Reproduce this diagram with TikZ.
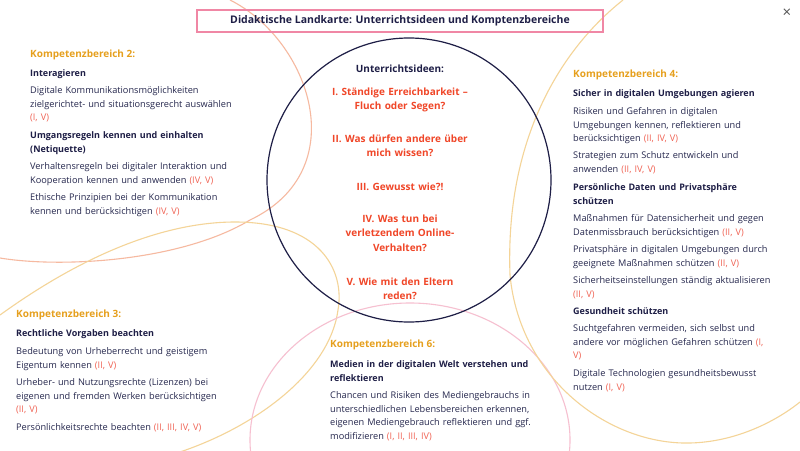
\documentclass[tikz,border=0pt]{standalone}
\usepackage{fontspec}
\setmainfont{Open Sans}
\usetikzlibrary{positioning}
\definecolor{landnavy}{RGB}{30,30,70}
\definecolor{landtext}{RGB}{38,40,78}
\definecolor{landred}{RGB}{240,70,40}
\definecolor{landref}{RGB}{240,100,85}
\definecolor{landorange}{RGB}{230,160,30}
\definecolor{landpink}{RGB}{240,135,165}
\definecolor{landsalmon}{RGB}{246,185,160}
\definecolor{landyellow}{RGB}{244,212,152}
\definecolor{landrose}{RGB}{246,192,208}
\definecolor{landgray}{RGB}{85,85,85}
\newcommand{\kref}[1]{{\color{landref}#1}}

\begin{document}
\begin{tikzpicture}[x=1pt,y=-1pt,
    kbtitel/.style={anchor=base west,inner sep=0pt,text=landorange,
        font=\fontsize{10}{12}\selectfont\bfseries},
    kbsub/.style={anchor=base west,inner sep=0pt,text=landnavy,align=left,
        text width=250pt,font=\fontsize{9}{14}\selectfont\bfseries},
    kbtext/.style={anchor=base west,inner sep=0pt,text=landtext,align=left,
        text width=250pt,font=\fontsize{9.2}{13.7}\selectfont},
    idee/.style={anchor=base,inner sep=0pt,text=landred,align=center,
        text width=200pt,font=\fontsize{10}{14.5}\selectfont\bfseries},
    bogen/.style={line width=1.1pt}]
    \useasboundingbox (0,0) rectangle (800,450);
    \fill[white] (0,0) rectangle (800,450);
    % Hintergrundbögen
    \begin{scope}
        \clip (0,0) rectangle (800,450);
        \draw[bogen,landsalmon] (230,0) .. controls (310,40) and (355,170) .. (250,220)
            .. controls (180,262) and (60,268) .. (0,258);
        \draw[bogen,landyellow] (0,315) .. controls (90,250) and (170,222) .. (235,222)
            .. controls (320,222) and (345,270) .. (338,310)
            .. controls (330,370) and (260,425) .. (180,452);
        \draw[bogen,landrose] (410,440) ellipse (160 and 137);
        \draw[bogen,landyellow] (623,0) .. controls (560,50) and (505,140) .. (510,275)
            .. controls (520,380) and (610,445) .. (690,443)
            .. controls (735,442) and (775,422) .. (800,402);
    \end{scope}
    % Titel
    \node[draw=landpink,line width=1.5pt,minimum width=406pt,minimum height=22pt,
        inner sep=0pt,text=landnavy,font=\fontsize{10.5}{12}\selectfont\bfseries]
        (titel) at (400,21) {Didaktische Landkarte: Unterrichtsideen und Komptenzbereiche};
    \node[text=landgray,font=\fontsize{15}{16}\selectfont] (schliessen) at (787,13) {×};
    % Kreis mit Unterrichtsideen
    \draw[landnavy,line width=1.2pt] (409,180) circle (142);
    \node[idee,text=landnavy] (ideen) at (400,72) {Unterrichtsideen:};
    \node[idee] (idee1) at (400,95) {I. Ständige Erreichbarkeit –\\Fluch oder Segen?};
    \node[idee] (idee2) at (400,142) {II. Was dürfen andere über\\mich wissen?};
    \node[idee] (idee3) at (400,190) {III. Gewusst wie?!};
    \node[idee] (idee4) at (400,222) {IV. Was tun bei\\verletzendem Online-\\Verhalten?};
    \node[idee] (idee5) at (400,285) {V. Wie mit den Eltern\\reden?};
    % Kompetenzbereich 2
    \node[kbtitel] (kb2) at (30,57) {Kompetenzbereich 2:};
    \node[kbsub] (kb2-inter) at (30,76.5) {Interagieren};
    \node[kbtext] (kb2-t1) at (30,93.5) {Digitale Kommunikationsmöglichkeiten\\
        zielgerichtet- und situationsgerecht auswählen\\\kref{(I, V)}};
    \node[kbsub] (kb2-regeln) at (30,138.5) {Umgangsregeln kennen und einhalten\\(Netiquette)};
    \node[kbtext] (kb2-t2) at (30,169.5) {Verhaltensregeln bei digitaler Interaktion und\\
        Kooperation kennen und anwenden \kref{(IV, V)}};
    \node[kbtext] (kb2-t3) at (30,200.5) {Ethische Prinzipien bei der Kommunikation\\
        kennen und berücksichtigen \kref{(IV, V)}};
    % Kompetenzbereich 3
    \node[kbtitel] (kb3) at (16,317) {Kompetenzbereich 3:};
    \node[kbsub] (kb3-recht) at (16,336.5) {Rechtliche Vorgaben beachten};
    \node[kbtext] (kb3-t1) at (16,354.5) {Bedeutung von Urheberrecht und geistigem\\
        Eigentum kennen \kref{(II, V)}};
    \node[kbtext] (kb3-t2) at (16,385.5) {Urheber- und Nutzungsrechte (Lizenzen) bei\\
        eigenen und fremden Werken berücksichtigen\\\kref{(II, V)}};
    \node[kbtext] (kb3-t3) at (16,430.5) {Persönlichkeitsrechte beachten \kref{(II, III, IV, V)}};
    % Kompetenzbereich 4
    \node[kbtitel] (kb4) at (573,77) {Kompetenzbereich 4:};
    \node[kbsub] (kb4-sicher) at (573,96.5) {Sicher in digitalen Umgebungen agieren};
    \node[kbtext] (kb4-t1) at (573,114.5) {Risiken und Gefahren in digitalen\\
        Umgebungen kennen, reflektieren und\\berücksichtigen \kref{(II, IV, V)}};
    \node[kbtext] (kb4-t2) at (573,158.5) {Strategien zum Schutz entwickeln und\\
        anwenden \kref{(II, IV, V)}};
    \node[kbsub] (kb4-daten) at (573,190.5) {Persönliche Daten und Privatsphäre\\schützen};
    \node[kbtext] (kb4-t3) at (573,221.5) {Maßnahmen für Datensicherheit und gegen\\
        Datenmissbrauch berücksichtigen \kref{(II, V)}};
    \node[kbtext] (kb4-t4) at (573,252.5) {Privatsphäre in digitalen Umgebungen durch\\
        geeignete Maßnahmen schützen \kref{(II, V)}};
    \node[kbtext] (kb4-t5) at (573,283.5) {Sicherheitseinstellungen ständig aktualisieren\\
        \kref{(II, V)}};
    \node[kbsub] (kb4-gesund) at (573,314.5) {Gesundheit schützen};
    \node[kbtext] (kb4-t6) at (573,331.5) {Suchtgefahren vermeiden, sich selbst und\\
        andere vor möglichen Gefahren schützen \kref{(I,}\\\kref{V)}};
    \node[kbtext] (kb4-t7) at (573,376.5) {Digitale Technologien gesundheitsbewusst\\
        nutzen \kref{(I, V)}};
    % Kompetenzbereich 6
    \node[kbtitel] (kb6) at (330,347) {Kompetenzbereich 6:};
    \node[kbsub] (kb6-medien) at (330,367.5) {Medien in der digitalen Welt verstehen und\\
        reflektieren};
    \node[kbtext] (kb6-t1) at (330,398.5) {Chancen und Risiken des Mediengebrauchs in\\
        unterschiedlichen Lebensbereichen erkennen,\\
        eigenen Mediengebrauch reflektieren und ggf.\\
        modifizieren \kref{(I, II, III, IV)}};
\end{tikzpicture}
\end{document}
